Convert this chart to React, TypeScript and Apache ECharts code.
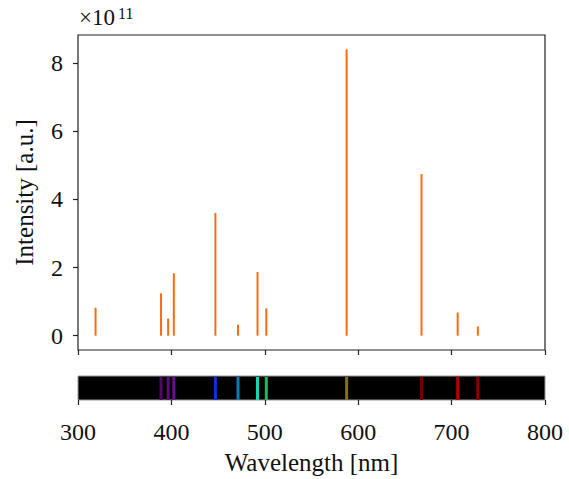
import React, { useEffect, useRef } from "react";
import * as echarts from "echarts";

// Helium emission lines (nm) and relative intensities (units of 1e11)
const wavelengths = [318.8, 388.9, 396.5, 402.6, 447.1, 471.3, 492.2, 501.6, 587.6, 667.8, 706.5, 728.1];
const intensities = [0.82, 1.24, 0.5, 1.83, 3.6, 0.32, 1.87, 0.8, 8.4, 4.74, 0.68, 0.27];

// Visible-strip lines and their colours
const stripWavelengths = [388.9, 396.5, 402.6, 447.1, 471.3, 492.2, 501.6, 587.6, 667.8, 706.5, 728.1];
const stripColors = ["#52086e", "#5e0a80", "#6a0e96", "#0632e0", "#0a7db4", "#10d8b4", "#10c060", "#857400", "#720000", "#b00404", "#8c0202"];

const xTicks = [300, 400, 500, 600, 700, 800];
const yTicks = [0, 2, 4, 6, 8];

const FONT = "'Liberation Serif', 'DejaVu Serif', serif";
const AXIS_COLOR = "#222";
const TICK_FS = 24;
const NAME_FS = 25;

export default function App() {
  const ref = useRef<HTMLDivElement>(null);
  useEffect(() => {
    if (!ref.current) return;
    const chart = echarts.init(ref.current, null, { renderer: "svg" });
    const lineData = wavelengths.map((w, i) => [w, intensities[i]]);
    const stripData = stripWavelengths.map((w, i) => ({ value: [w, 1], itemStyle: { color: stripColors[i] } }));
    chart.setOption({
      animation: false,
      backgroundColor: "#fff",
      textStyle: { fontFamily: FONT },
      grid: [
        { left: 78, top: 35, width: 467, height: 315, show: true, borderColor: AXIS_COLOR, borderWidth: 1.2, containLabel: false },
        { left: 78, top: 376, width: 467, height: 24, show: true, backgroundColor: "#000", borderColor: "#999", borderWidth: 1, containLabel: false },
      ],
      xAxis: [
        {
          gridIndex: 0, type: "value", min: 300, max: 800, interval: 100, position: "bottom",
          axisLine: { show: false, onZero: false }, splitLine: { show: false },
          axisTick: { show: true, length: 5, lineStyle: { color: AXIS_COLOR, width: 1.2 }, customValues: xTicks },
          axisLabel: { show: false },
        },
        {
          gridIndex: 1, type: "value", min: 300, max: 800, interval: 100, position: "bottom",
          axisLine: { show: false, onZero: false }, splitLine: { show: false },
          axisTick: { show: true, length: 5, lineStyle: { color: AXIS_COLOR, width: 1.2 }, customValues: xTicks },
          axisLabel: { show: true, color: "#111", fontSize: TICK_FS, fontFamily: FONT, margin: 20, customValues: xTicks },
          name: "Wavelength [nm]", nameLocation: "middle", nameGap: 50,
          nameTextStyle: { color: "#111", fontSize: NAME_FS, fontFamily: FONT },
        },
      ],
      yAxis: [
        {
          gridIndex: 0, type: "value", min: -0.42, max: 8.82,
          axisLine: { show: false, onZero: false }, splitLine: { show: false },
          axisTick: { show: true, length: 5, lineStyle: { color: AXIS_COLOR, width: 1.2 }, customValues: yTicks },
          axisLabel: { show: true, color: "#111", fontSize: TICK_FS, fontFamily: FONT, margin: 15, customValues: yTicks },
          name: "Intensity [a.u.]", nameLocation: "middle", nameGap: 41, nameRotate: 90,
          nameTextStyle: { color: "#111", fontSize: NAME_FS, fontFamily: FONT },
        },
        {
          gridIndex: 1, type: "value", min: 0, max: 1, show: false,
        },
      ],
      graphic: [
        {
          type: "text", x: 79, y: 29,
          style: { text: "×10", fontSize: 23, fontFamily: FONT, fill: "#111", verticalAlign: "bottom" },
        },
        {
          type: "text", x: 118, y: 21,
          style: { text: "11", fontSize: 16, fontFamily: FONT, fill: "#111", verticalAlign: "bottom" },
        },
      ],
      series: [
        {
          type: "custom", xAxisIndex: 0, yAxisIndex: 0, data: lineData, clip: true,
          renderItem: (params: any, api: any) => {
            const x = api.value(0);
            const y = api.value(1);
            const p0 = api.coord([x, 0]);
            const p1 = api.coord([x, y]);
            return {
              type: "line",
              shape: { x1: p0[0], y1: p0[1], x2: p1[0], y2: p1[1] },
              style: { stroke: "#fd6a10", lineWidth: 2 },
            };
          },
        },
        {
          type: "custom", xAxisIndex: 1, yAxisIndex: 1, data: stripData, clip: true,
          renderItem: (params: any, api: any) => {
            const x = api.value(0);
            const p0 = api.coord([x, 0]);
            const p1 = api.coord([x, 1]);
            return {
              type: "rect",
              shape: { x: p0[0] - 1.5, y: p1[1] + 1, width: 3, height: p0[1] - p1[1] - 1 },
              style: { fill: api.visual("color") },
            };
          },
        },
      ],
    });
    return () => chart.dispose();
  }, []);
  return <div ref={ref} style={{ position: "fixed", left: 0, top: 0, width: 569, height: 479 }} />;
}
